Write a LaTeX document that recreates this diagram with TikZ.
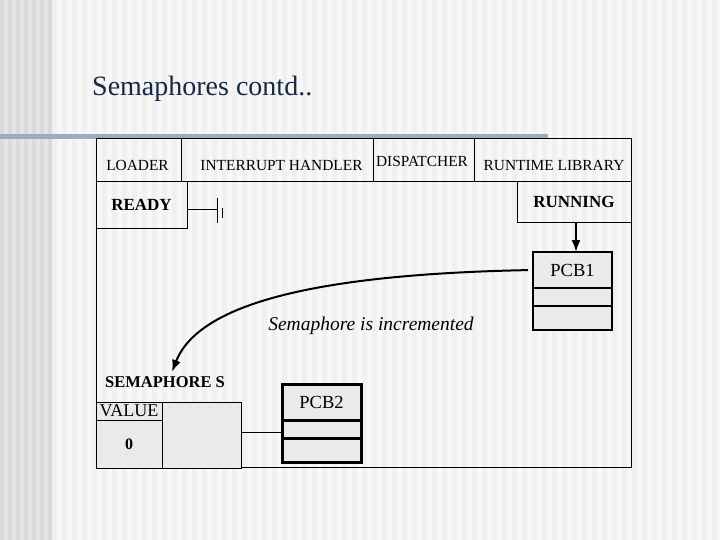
\documentclass[tikz,border=0pt]{standalone}
\usepackage{fontspec}
\setmainfont{Liberation Serif}
\usetikzlibrary{arrows.meta, positioning, calc}
\definecolor{slidebg}{RGB}{247,247,247}
\definecolor{slidestripe}{RGB}{240,240,240}
\definecolor{leftbg}{RGB}{228,228,228}
\definecolor{leftstripe}{RGB}{217,217,217}
\definecolor{titleblue}{RGB}{25,40,65}
\definecolor{barblue}{RGB}{158,172,192}
\definecolor{boxgray}{RGB}{234,234,234}

\begin{document}
\begin{tikzpicture}[x=1pt, y=-1pt, >=Latex,
    hdr/.style={font=\fontsize{15.4}{16}\selectfont, inner sep=0pt, anchor=base},
    bold/.style={font=\fontsize{17}{17}\selectfont\bfseries, inner sep=0pt},
    cell/.style={draw, line width=0.8pt, inner sep=0pt, outer sep=0pt, anchor=north west},
    pcb/.style={draw, line width=2.2pt, fill=boxgray, inner sep=0pt, outer sep=0pt,
      minimum width=79, font=\fontsize{18.5}{18}\selectfont}]
    % slide background
    \fill[slidebg] (0,0) rectangle (720,540);
    \foreach \x in {52,62,...,716} \fill[slidestripe] (\x,0) rectangle ++(5,540);
    \fill[leftbg] (0,0) rectangle (52,540);
    \foreach \x in {0,8,...,48} \fill[leftstripe] (\x,0) rectangle ++(4,540);
    \useasboundingbox (0,0) rectangle (720,540);
    \node[font=\fontsize{28}{28}\selectfont, text=titleblue, inner sep=0pt, anchor=base west]
      (title) at (92,96) {Semaphores contd..};
    \fill[barblue] (0,134) rectangle (548,139);

    % main frame and header row
    \draw[line width=0.8pt] (96,138) rectangle (631,467);
    \draw[line width=0.8pt] (96,181) -- (631,181)
      (181,138) -- (181,181) (373,138) -- (373,181) (474,138) -- (474,181);
    \node[hdr] (loader) at (137.5,171) {LOADER};
    \node[hdr] (inth) at (281.5,171) {INTERRUPT HANDLER};
    \node[hdr] (disp) at (422,167) {DISPATCHER};
    \node[hdr] (rtlib) at (554,171) {RUNTIME LIBRARY};

    % ready and running
    \node[cell, bold, minimum width=91, minimum height=47] (ready) at (96,181) {READY};
    \node[cell, bold, minimum width=114, minimum height=41] (running) at (517,181) {RUNNING};
    \coordinate (gnd) at (217,209);
    \draw[line width=0.8pt] ([yshift=-4.5pt]ready.east) -- (gnd);
    \draw[line width=0.8pt] (217,198) -- (217,223) (222,208) -- (222,218);

    % process control blocks
    \node[pcb, minimum height=36, anchor=north west] (pcb1a) at (533,252) {PCB1};
    \node[pcb, minimum height=18, below=0pt of pcb1a] (pcb1b) {};
    \node[pcb, minimum height=24, below=0pt of pcb1b] (pcb1c) {};
    \draw[->, line width=2pt] (running.south -| 576,0) -- (pcb1a.north -| 576,0);

    \node[pcb, line width=3pt, minimum height=36, anchor=north west] (pcb2a) at (282,384) {PCB2};
    \node[pcb, line width=3pt, minimum height=18, below=0pt of pcb2a] (pcb2b) {};
    \node[pcb, line width=3pt, minimum height=24, below=0pt of pcb2b] (pcb2c) {};

    % semaphore
    \node[bold, font=\fontsize{16.5}{16}\selectfont\bfseries, anchor=base] (sem) at (165,387) {SEMAPHORE S};
    \node[cell, fill=boxgray, minimum width=66, minimum height=18,
      font=\fontsize{18}{18}\selectfont] (semlbl) at (96,402) {VALUE};
    \node[cell, fill=boxgray, minimum width=66, minimum height=48,
      font=\fontsize{16}{16}\selectfont\bfseries, below=0pt of semlbl] (semzero) {0};
    \node[cell, fill=boxgray, minimum width=79, minimum height=66] (semval) at (162,402) {};
    \draw[line width=0.8pt] (semval.east |- 0,432) -- (pcb2b.west |- 0,432);

    % increment arrow
    \draw[->, line width=2pt, shorten <=5pt] (pcb1a.west)
      .. controls (330,274) and (200,300) .. ([xshift=7pt, yshift=4pt]sem.north);
    \node[font=\fontsize{19.5}{19}\selectfont\itshape, inner sep=0pt] (incr) at (371,326)
      {Semaphore is incremented};
  \end{tikzpicture}
\end{document}
